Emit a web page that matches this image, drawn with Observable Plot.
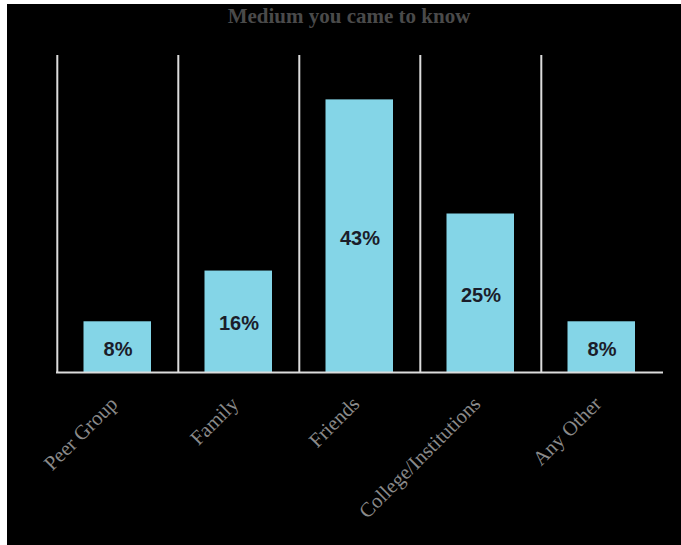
<!DOCTYPE html>
<html>
<head>
<meta charset="utf-8">
<script src="https://cdn.jsdelivr.net/npm/d3@7"></script>
<script src="https://cdn.jsdelivr.net/npm/@observablehq/plot@0.6"></script>
<style>
  html, body { margin: 0; padding: 0; background: #ffffff; }
  #wrap { position: absolute; left: 7px; top: 4px; width: 674px; height: 541px; background: #000000; }
</style>
</head>
<body>
<div id="wrap"></div>
<script>
const title = "Medium you came to know";
const categories = ["Peer Group", "Family", "Friends", "College/Institutions", "Any Other"];
const values = [8, 16, 43, 25, 8];

const data = categories.map((c, i) => ({category: c, value: values[i]}));

const W = 674, H = 541;
const mL = 49, mR = 18, mT = 51, mB = 173;
const bw = (W - mL - mR) / categories.length;

const chart = Plot.plot({
  width: W,
  height: H,
  marginLeft: mL,
  marginRight: mR,
  marginTop: mT,
  marginBottom: mB,
  style: {background: "#000000", overflow: "visible"},
  x: {domain: categories, padding: 0, label: null},
  y: {domain: [0, 50], axis: null},
  marks: [
    Plot.barY(data, {x: "category", y: "value", fill: "#84d5e7", insetLeft: 26.5, insetRight: 27}),
    Plot.ruleX(categories, {x: d => d, y1: 0, y2: 50, dx: -bw / 2, stroke: "#dcdcdc", strokeWidth: 2}),
    Plot.ruleY([0], {stroke: "#dcdcdc", strokeWidth: 2}),
    Plot.text(data, {
      x: "category", y: d => d.value / 2, text: d => d.value + "%",
      dy: 2, fontSize: 20, fontWeight: "bold", fill: "#1b1d2a",
      fontFamily: "'Liberation Sans', Arial, sans-serif"
    }),
    Plot.axisX({
      tickSize: 0, tickPadding: 28, dx: -4, tickRotate: -45, fontSize: 20.5,
      fill: "#8a8a8a", fontFamily: "'Liberation Serif', 'Times New Roman', serif", label: null
    }),
    Plot.text([title], {
      frameAnchor: "top", dy: -47, dx: -11, fontSize: 21, fontWeight: "bold",
      fill: "#4a4a4a", fontFamily: "'Liberation Serif', 'Times New Roman', serif"
    })
  ]
});
document.getElementById("wrap").appendChild(chart);
</script>
</body>
</html>
